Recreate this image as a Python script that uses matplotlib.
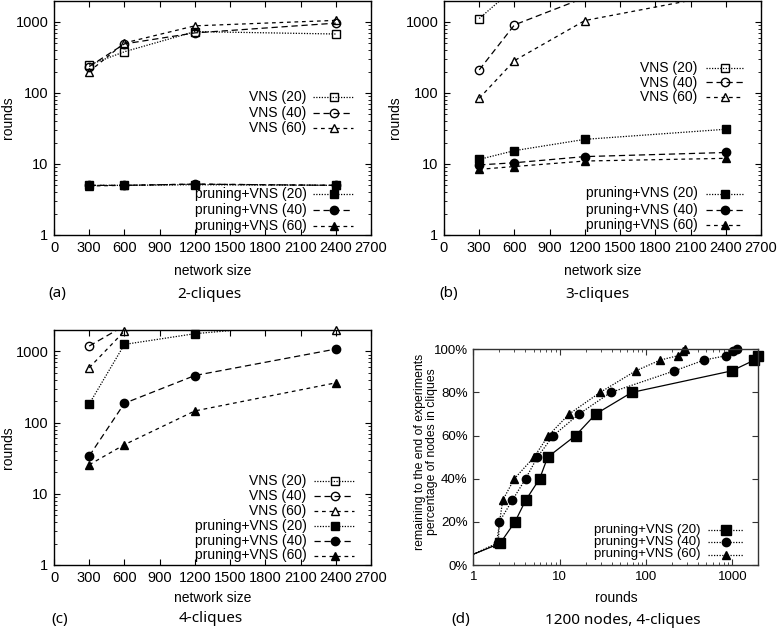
import matplotlib
matplotlib.use('Agg')
import matplotlib.pyplot as plt
from matplotlib.ticker import NullFormatter, LogLocator
import numpy as np

plt.rcParams['font.family'] = ['Liberation Sans', 'DejaVu Sans']

W, H = 778, 633

# network sizes (x axis of a, b, c)
sizes = [300, 600, 1200, 2400]

# (a) 2-cliques
a_vns20 = [248, 380, 730, 675]
a_vns40 = [235, 490, 700, 960]
a_vns60 = [200, 505, 880, 1050]
a_pr20 = [5.0, 5.0, 5.1, 5.0]
a_pr40 = [5.0, 5.0, 5.2, 5.0]
a_pr60 = [4.9, 5.0, 5.2, 5.0]

# (b) 3-cliques (values above 2000 run off the top of the plot)
b_vns20 = [1115, 3000, 6000, 12000]
b_vns40 = [211, 907, 2200, 4000]
b_vns60 = [84, 285, 1045, 2500]
b_pr20 = [11.6, 15.4, 22.2, 30.8]
b_pr40 = [9.7, 10.4, 12.7, 14.5]
b_pr60 = [8.4, 9.2, 11.0, 12.0]

# (c) 4-cliques
c_vns20 = [4000, 8000, 15000, 30000]
c_vns40 = [1190, 2300, 4000, 8000]
c_vns60 = [590, 1930, 2600, 1990]
c_pr20 = [183, 1255, 1775, 2650]
c_pr40 = [34, 187, 459, 1080]
c_pr60 = [25.6, 49, 146, 362]

# (d) 1200 nodes, 4-cliques: rounds vs percentage of nodes in cliques
d_r20 = [1, 2.04, 3.04, 4.04, 5.87, 7.27, 15.3, 26.2, 68.4, 985, 1800, 1990]
d_p20 = [5, 10, 20, 30, 40, 50, 60, 70, 80, 90, 95, 97]
d_r40 = [1, 1.95, 2.0, 2.83, 4.04, 5.52, 8.45, 16.8, 39, 213, 471, 839, 1030, 1125]
d_p40 = [5, 10, 20, 30, 40, 50, 60, 70, 80, 90, 95, 97, 99, 100]
d_r60 = [1, 1.86, 2.19, 2.99, 5.05, 7.4, 12.9, 29.4, 76, 146, 233, 267, 284]
d_p60 = [5, 10, 30, 40, 50, 60, 70, 80, 90, 95, 97, 99, 100]

labels = ['VNS (20)', 'VNS (40)', 'VNS (60)',
          'pruning+VNS (20)', 'pruning+VNS (40)', 'pruning+VNS (60)']
dashes = {20: (0, (1, 1.2)), 40: (0, (5, 3)), 60: (0, (3, 3))}
marks = {20: 's', 40: 'o', 60: '^'}

fig = plt.figure(figsize=(W / 100, H / 100), dpi=100)


def draw(ax, x, y, k, filled, ymax, ls=None, ms=6, start=0):
    ls = ls if ls is not None else dashes[k]
    ax.plot(x, y, color='k', lw=0.9, ls=ls)
    x = np.asarray(x, float)[start:]
    y = np.asarray(y, float)[start:]
    keep = y <= ymax
    ax.plot(x[keep], y[keep], ls='none', marker=marks[k], ms=ms,
            mfc='k' if filled else 'none', mec='k', mew=1.0, clip_on=False)


def key(ax, ypx, text, k, filled, geo, ls=None, ms=6, fs=10):
    # gnuplot style key entry: right aligned text, then the sample
    tx, s0, s1, m = geo
    pos = ax.get_position()
    fx = lambda px: (px / W - pos.x0) / pos.width
    fy = (1 - ypx / H - pos.y0) / pos.height
    ls = ls if ls is not None else dashes[k]
    ax.text(fx(tx), fy, text, transform=ax.transAxes, ha='right', va='center',
            fontsize=fs)
    ax.plot([fx(s0), fx(s1)], [fy, fy], transform=ax.transAxes, color='k',
            lw=0.9, ls=ls, clip_on=False)
    ax.plot([fx(m)], [fy], transform=ax.transAxes, marker=marks[k], ms=ms,
            mfc='k' if filled else 'none', mec='k', mew=1.0, clip_on=False)


def frame(ax, color='k', fs=10.5):
    for s in ax.spines.values():
        s.set_linewidth(1.0)
        s.set_color(color)
    ax.tick_params(which='both', direction='in', top=True, right=True,
                   labelsize=fs, pad=4, color=color)
    ax.tick_params(which='major', length=4)
    ax.tick_params(which='minor', length=2)


def size_axes(ax):
    ax.set_xlim(0, 2700)
    ax.set_xticks(range(0, 2701, 300))
    ax.set_yscale('log')
    ax.set_ylim(1, 2000)
    ax.set_yticks([1, 10, 100, 1000])
    ax.set_yticklabels(['1', '10', '100', '1000'])
    ax.yaxis.set_minor_locator(LogLocator(base=10, subs=np.arange(2, 10)))
    ax.yaxis.set_minor_formatter(NullFormatter())
    frame(ax)


def box(l, t, r, b):
    return [l / W, 1 - b / H, (r - l) / W, (b - t) / H]


def ft(x, y, s, **kw):
    fig.text(x / W, 1 - y / H, s, ha='center', va='center', **kw)


cap = dict(family=['Noto Sans', 'DejaVu Sans'], fontsize=11)

panels = [
    (box(54, 0.5, 371, 235), [a_vns20, a_vns40, a_vns60], [a_pr20, a_pr40, a_pr60]),
    (box(444, 0.5, 761, 235), [b_vns20, b_vns40, b_vns60], [b_pr20, b_pr40, b_pr60]),
    (box(54, 330, 371, 565), [c_vns20, c_vns40, c_vns60], [c_pr20, c_pr40, c_pr60]),
]
axes = []
for pos, vns, pr in panels:
    ax = fig.add_axes(pos)
    size_axes(ax)
    for k, y in zip((20, 40, 60), vns):
        draw(ax, sizes, y, k, False, 2000)
    for k, y in zip((20, 40, 60), pr):
        draw(ax, sizes, y, k, True, 2000)
    axes.append(ax)

ax_a, ax_b, ax_c = axes
ks = (20, 40, 60)

geo_a = (306.7, 313, 353, 334)
for i, y in enumerate([97, 112.5, 128]):
    key(ax_a, y, labels[i], ks[i], False, geo_a)
for i, y in enumerate([194.5, 210, 226]):
    key(ax_a, y, labels[3 + i], ks[i], True, geo_a)

geo_b = (697.7, 705.5, 742.5, 725)
for i, y in enumerate([68, 82.5, 97]):
    key(ax_b, y, labels[i], ks[i], False, geo_b)
for i, y in enumerate([193.5, 209.5, 225]):
    key(ax_b, y, labels[3 + i], ks[i], True, geo_b)

geo_c = (306.7, 314, 354, 335)
for i, y in enumerate([481, 496, 511, 526, 541, 555.5]):
    key(ax_c, y, labels[i], ks[i % 3], i >= 3, geo_c)

# (d)
ax_d = fig.add_axes(box(473.3, 349.3, 758.3, 565))
ax_d.set_xscale('log')
ax_d.set_xlim(1, 2000)
ax_d.set_xticks([1, 10, 100, 1000])
ax_d.set_xticklabels(['1', '10', '100', '1000'])
ax_d.xaxis.set_minor_locator(LogLocator(base=10, subs=np.arange(2, 10)))
ax_d.xaxis.set_minor_formatter(NullFormatter())
ax_d.set_ylim(0, 100)
ax_d.set_yticks(range(0, 101, 20))
ax_d.set_yticklabels(['%d%%' % v for v in range(0, 101, 20)])
frame(ax_d, '#333333', fs=9.5)

dot_d = (0, (1, 1.2))
draw(ax_d, d_r20, d_p20, 20, True, 100, ls='-', ms=6.5, start=1)
draw(ax_d, d_r40, d_p40, 40, True, 100, ls=dot_d, ms=6, start=1)
draw(ax_d, d_r60, d_p60, 60, True, 100, ls=dot_d, ms=5.5, start=1)
geo_d = (700, 708, 743, 726)
for i, (y, ms) in enumerate(zip([530, 542, 554.5], [6.5, 6, 5.5])):
    key(ax_d, y, labels[3 + i], ks[i], True, geo_d, ls=dot_d, ms=ms, fs=9.5)

# axis titles and captions
ft(8, 118, 'rounds', rotation=90, fontsize=10)
ft(395, 118, 'rounds', rotation=90, fontsize=10)
ft(8, 447.5, 'rounds', rotation=90, fontsize=10)
ft(426, 452, 'remaining to the end of experiments\npercentage of nodes in cliques',
   rotation=90, fontsize=8.8, linespacing=1.05)

ft(212.5, 271, 'network size', fontsize=10)
ft(602.5, 271, 'network size', fontsize=10)
ft(212.5, 598, 'network size', fontsize=10)
ft(616, 598, 'rounds', fontsize=10)

ft(57, 294, '(a)', **cap)
ft(209, 294, '2-cliques', **cap)
ft(449, 294, '(b)', **cap)
ft(597.5, 294, '3-cliques', **cap)
ft(60, 619, '(c)', **cap)
ft(211, 619, '4-cliques', **cap)
ft(461, 620, '(d)', **cap)
ft(623, 620, '1200 nodes, 4-cliques', **cap)

fig.savefig('out.png', dpi=100)
